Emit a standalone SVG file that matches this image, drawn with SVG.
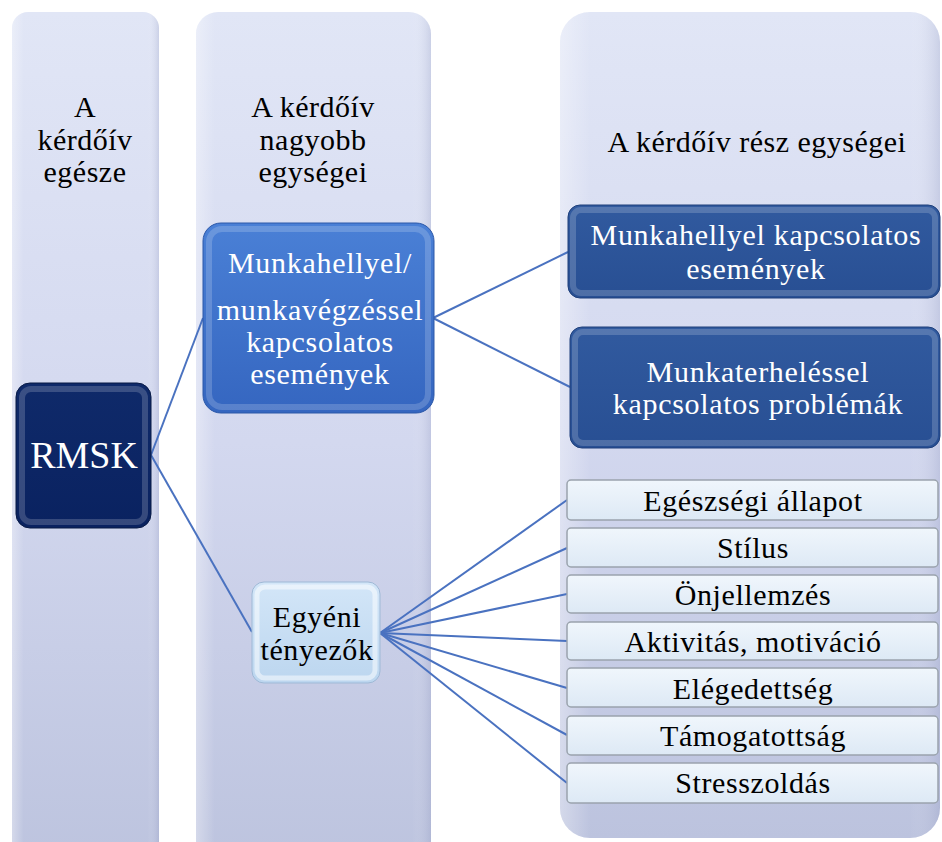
<svg xmlns="http://www.w3.org/2000/svg" width="942" height="842" viewBox="0 0 942 842">
<defs>
<linearGradient id="colG" x1="0" y1="0" x2="0" y2="1">
<stop offset="0" stop-color="#e1e6f6"/>
<stop offset="0.5" stop-color="#d3d8ef"/>
<stop offset="1" stop-color="#bcc3de"/>
</linearGradient>
<linearGradient id="colEdge" x1="0" y1="0" x2="1" y2="0">
<stop offset="0" stop-color="#ffffff" stop-opacity="0.35"/>
<stop offset="0.08" stop-color="#ffffff" stop-opacity="0"/>
<stop offset="0.92" stop-color="#ffffff" stop-opacity="0"/>
<stop offset="1" stop-color="#8890b8" stop-opacity="0.25"/>
</linearGradient>
<linearGradient id="navyG" x1="0" y1="0" x2="0" y2="1">
<stop offset="0" stop-color="#0f2a6a"/>
<stop offset="1" stop-color="#0a2260"/>
</linearGradient>
<linearGradient id="midG" x1="0" y1="0" x2="0" y2="1">
<stop offset="0" stop-color="#4a80d6"/>
<stop offset="1" stop-color="#3566c0"/>
</linearGradient>
<linearGradient id="darkG" x1="0" y1="0" x2="0" y2="1">
<stop offset="0" stop-color="#315a9f"/>
<stop offset="1" stop-color="#284f93"/>
</linearGradient>
<linearGradient id="lightG" x1="0" y1="0" x2="0" y2="1">
<stop offset="0" stop-color="#d3e6f8"/>
<stop offset="1" stop-color="#bcd6ef"/>
</linearGradient>
<linearGradient id="itemG" x1="0" y1="0" x2="0" y2="1">
<stop offset="0" stop-color="#f0f6fc"/>
<stop offset="1" stop-color="#dde9f5"/>
</linearGradient>
</defs>
<style>
.col{fill:url(#colG);}
.coledge{fill:url(#colEdge);}
.hdr{font-family:"Liberation Serif","Times New Roman",serif;font-size:30px;letter-spacing:0.5px;fill:#000;text-anchor:middle;}
.wt{font-family:"Liberation Serif","Times New Roman",serif;font-size:30px;letter-spacing:0.7px;fill:#fff;text-anchor:middle;}
.bt{font-family:"Liberation Serif","Times New Roman",serif;font-size:30px;letter-spacing:0.6px;fill:#000;text-anchor:middle;}
.rm{font-family:"Liberation Serif","Times New Roman",serif;font-size:38px;fill:#fff;text-anchor:middle;}
.bevelD{fill:none;stroke:#ffffff;stroke-opacity:0.18;stroke-width:6;}
.bevelL{fill:none;stroke:#ffffff;stroke-opacity:0.5;stroke-width:5;}
.item{fill:url(#itemG);stroke:#9aa3ad;stroke-width:1.5;}
.conn{stroke:#4a72c0;stroke-width:2;fill:none;}
</style>
<rect width="942" height="842" fill="#ffffff"/>

<g id="col1">
<rect class="col" x="12" y="12" width="147" height="860" rx="16"/>
<rect class="coledge" x="12" y="12" width="147" height="860" rx="16"/>
<text class="hdr" x="85" y="117">A</text>
<text class="hdr" x="85" y="150">kérdőív</text>
<text class="hdr" x="85" y="182">egésze</text>
</g>

<g id="col2">
<rect class="col" x="196" y="12" width="235" height="860" rx="22"/>
<rect class="coledge" x="196" y="12" width="235" height="860" rx="22"/>
<text class="hdr" x="313" y="117">A kérdőív</text>
<text class="hdr" x="313" y="150">nagyobb</text>
<text class="hdr" x="313" y="182">egységei</text>
</g>

<g id="col3">
<rect class="col" x="560" y="12" width="380" height="826" rx="30"/>
<rect class="coledge" x="560" y="12" width="380" height="826" rx="30"/>
<text class="hdr" x="757" y="152">A kérdőív  rész egységei</text>
</g>

<g id="connectors">
<line class="conn" x1="151" y1="455" x2="203" y2="318"/>
<line class="conn" x1="151" y1="455" x2="252" y2="632"/>
<line class="conn" x1="433" y1="318" x2="568" y2="252"/>
<line class="conn" x1="433" y1="318" x2="570" y2="387"/>
<line class="conn" x1="380" y1="633" x2="567" y2="500"/>
<line class="conn" x1="380" y1="633" x2="567" y2="548"/>
<line class="conn" x1="380" y1="633" x2="567" y2="594"/>
<line class="conn" x1="380" y1="633" x2="567" y2="641"/>
<line class="conn" x1="380" y1="633" x2="567" y2="688"/>
<line class="conn" x1="380" y1="633" x2="567" y2="735"/>
<line class="conn" x1="380" y1="633" x2="567" y2="783"/>
</g>

<g id="rmsk">
<rect x="16" y="383" width="135" height="145" rx="14" fill="url(#navyG)" stroke="#081a45" stroke-width="1"/>
<rect class="bevelD" x="22" y="389" width="123" height="133" rx="9"/>
<text class="rm" x="84" y="468">RMSK</text>
</g>

<g id="munkahellyel-munkavegzessel">
<rect x="203" y="223" width="231" height="190" rx="18" fill="url(#midG)" stroke="#2c58a8" stroke-width="1"/>
<rect class="bevelD" x="209" y="229" width="219" height="178" rx="13"/>
<text class="wt" x="320" y="273">Munkahellyel/</text>
<text class="wt" x="320" y="320">munkavégzéssel</text>
<text class="wt" x="320" y="352">kapcsolatos</text>
<text class="wt" x="320" y="384">események</text>
</g>

<g id="egyeni">
<rect x="252" y="582" width="128" height="101" rx="12" fill="url(#lightG)" stroke="#9fb9d6" stroke-width="1"/>
<rect class="bevelL" x="257" y="587" width="118" height="91" rx="8"/>
<text class="bt" x="317" y="627">Egyéni</text>
<text class="bt" x="317" y="660">tényezők</text>
</g>

<g id="munkahellyel-kapcsolatos">
<rect x="568" y="205" width="372" height="93" rx="12" fill="url(#darkG)" stroke="#1e3f7a" stroke-width="1"/>
<rect class="bevelD" x="573" y="210" width="362" height="83" rx="8"/>
<text class="wt" x="756" y="245">Munkahellyel  kapcsolatos</text>
<text class="wt" x="756" y="279">események</text>
</g>

<g id="munkaterhelessel">
<rect x="570" y="327" width="370" height="121" rx="12" fill="url(#darkG)" stroke="#1e3f7a" stroke-width="1"/>
<rect class="bevelD" x="575" y="332" width="360" height="111" rx="8"/>
<text class="wt" x="758" y="382">Munkaterheléssel</text>
<text class="wt" x="758" y="414">kapcsolatos  problémák</text>
</g>

<g id="item1">
<rect class="item" x="567" y="480" width="371" height="40" rx="4"/>
<text class="bt" x="753" y="511">Egészségi  állapot</text>
</g>
<g id="item2">
<rect class="item" x="567" y="528" width="371" height="39" rx="4"/>
<text class="bt" x="753" y="558">Stílus</text>
</g>
<g id="item3">
<rect class="item" x="567" y="575" width="371" height="38" rx="4"/>
<text class="bt" x="753" y="605">Önjellemzés</text>
</g>
<g id="item4">
<rect class="item" x="567" y="622" width="371" height="38" rx="4"/>
<text class="bt" x="753" y="652">Aktivitás,  motiváció</text>
</g>
<g id="item5">
<rect class="item" x="567" y="668" width="371" height="39" rx="4"/>
<text class="bt" x="753" y="699">Elégedettség</text>
</g>
<g id="item6">
<rect class="item" x="567" y="716" width="371" height="39" rx="4"/>
<text class="bt" x="753" y="746">Támogatottság</text>
</g>
<g id="item7">
<rect class="item" x="567" y="763" width="371" height="40" rx="4"/>
<text class="bt" x="753" y="793">Stresszoldás</text>
</g>
</svg>
